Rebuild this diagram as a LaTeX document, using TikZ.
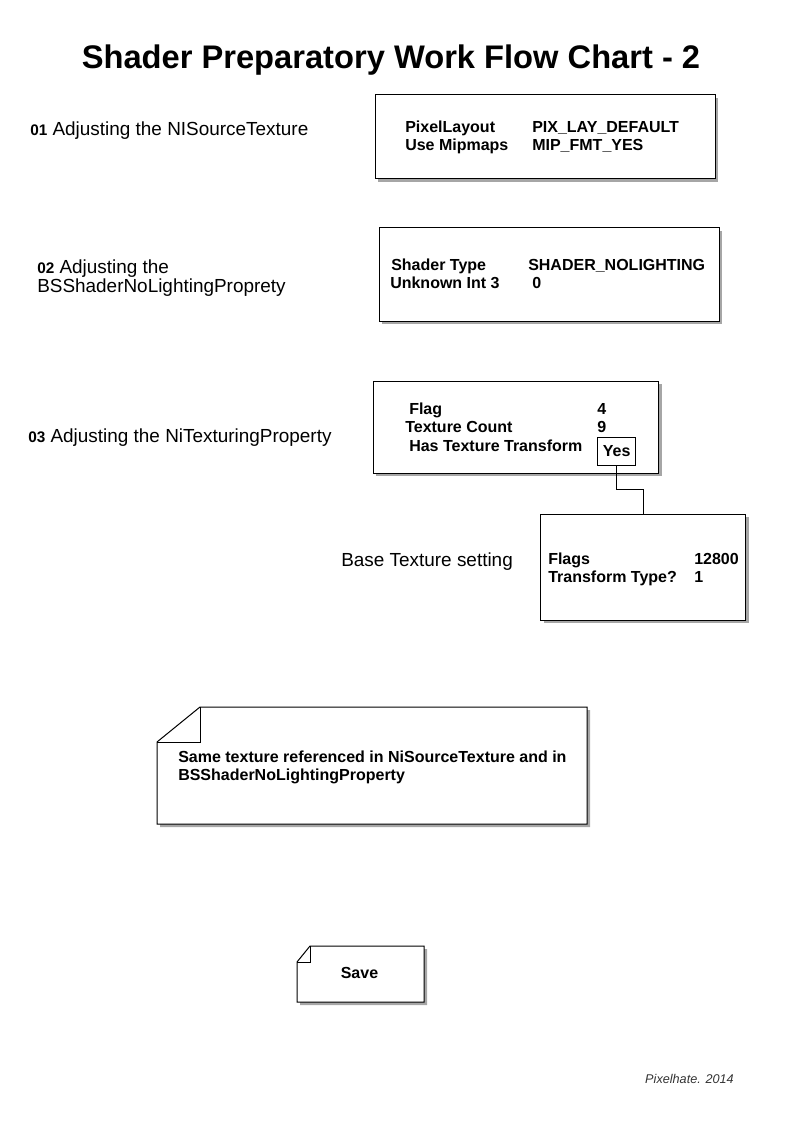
\documentclass[tikz,border=0pt]{standalone}
\usepackage{fontspec}
\setmainfont{Liberation Sans}
\usetikzlibrary{shadows, positioning}
\newcommand{\pasonum}[1]{{\fontsize{11.5}{14}\selectfont\bfseries #1}}

\begin{document}
\begin{tikzpicture}[
        x=0.75pt, y=-0.75pt,
        caja/.style={draw, line width=0.75pt, fill=white, drop shadow={shadow xshift=2.25pt, shadow yshift=-2.25pt, opacity=1, fill=gray!70}},
        campo/.style={anchor=base west, inner sep=0pt, font=\fontsize{12}{14}\selectfont\bfseries},
        etiqueta/.style={anchor=base west, inner sep=0pt, font=\fontsize{14.2}{17}\selectfont},
        linea/.style={line width=0.75pt}
    ]
        \useasboundingbox (0,0) rectangle (793,1123);
        \node[anchor=base, inner sep=0pt, font=\fontsize{24.5}{28}\selectfont\bfseries] (titulo) at (391,68.5) {Shader Preparatory Work Flow Chart - 2};
        % pasos
        \node[etiqueta] (paso1) at (30,136) {\pasonum{01} Adjusting the NISourceTexture};
        \node[etiqueta] (paso2) at (37,273.5) {\pasonum{02} Adjusting the};
        \node[etiqueta] (paso2b) at (37,292.5) {BSShaderNoLightingProprety};
        \node[etiqueta] (paso3) at (28,442) {\pasonum{03} Adjusting the NiTexturingProperty};
        \node[etiqueta] (base-txt) at (341,566) {Base Texture setting};
        % cajas
        \node[caja, minimum width=255pt, minimum height=63pt] (fuente) at (545,137) {};
        \node[campo] (f1) at (405,133) {PixelLayout};
        \node[campo] (f1v) at (532,133) {PIX\_LAY\_DEFAULT};
        \node[campo] (f2) at (405,151) {Use Mipmaps};
        \node[campo] (f2v) at (532,151) {MIP\_FMT\_YES};
        \node[caja, minimum width=255pt, minimum height=69.75pt] (shader) at (549,274.5) {};
        \node[campo] (s1) at (391,270) {Shader Type};
        \node[campo] (s1v) at (528,270) {SHADER\_NOLIGHTING};
        \node[campo] (s2) at (390,288) {Unknown Int 3};
        \node[campo] (s2v) at (532,288) {0};
        \node[caja, minimum width=214pt, minimum height=69pt] (textprop) at (516,427) {};
        \node[campo] (t1) at (409,414.5) {Flag};
        \node[campo] (t1v) at (597,414.5) {4};
        \node[campo] (t2) at (405,432.5) {Texture Count};
        \node[campo] (t2v) at (597,432.5) {9};
        \node[campo] (t3) at (409,451) {Has Texture Transform};
        \node[draw, linea, inner sep=0pt, minimum width=28.5pt, minimum height=21pt, font=\fontsize{12}{14}\selectfont\bfseries] (si) at (616.7,451.3) {Yes};
        \node[caja, minimum width=153.75pt, minimum height=79.3pt] (base) at (643.2,567.2) {};
        \node[campo] (b1) at (548,564) {Flags};
        \node[campo] (b1v) at (694,564) {12800};
        \node[campo] (b2) at (548,582) {Transform Type?};
        \node[campo] (b2v) at (694,582) {1};
        \draw[linea] (si.south) -- ++(0,24) -| (base.north);
        % notas
        \path[caja] (157,742) -- (200,707) -- (587,707) -- (587,824) -- (157,824) -- cycle;
        \draw[linea] (200,707) -- (200,742) -- (157,742);
        \node[campo] (nota1) at (178,762) {Same texture referenced in NiSourceTexture and in};
        \node[campo] (nota2) at (178,780) {BSShaderNoLightingProperty};
        \path[caja] (297,962) -- (310,946) -- (424,946) -- (424,1002) -- (297,1002) -- cycle;
        \draw[linea] (310,946) -- (310,962) -- (297,962);
        \node[campo, anchor=base] (guardar) at (359.5,978) {Save};
        \node[anchor=base east, inner sep=0pt, font=\fontsize{9.5}{11}\selectfont\itshape, text=black!80] (firma) at (734,1083) {Pixelhate. 2014};
    \end{tikzpicture}
\end{document}
